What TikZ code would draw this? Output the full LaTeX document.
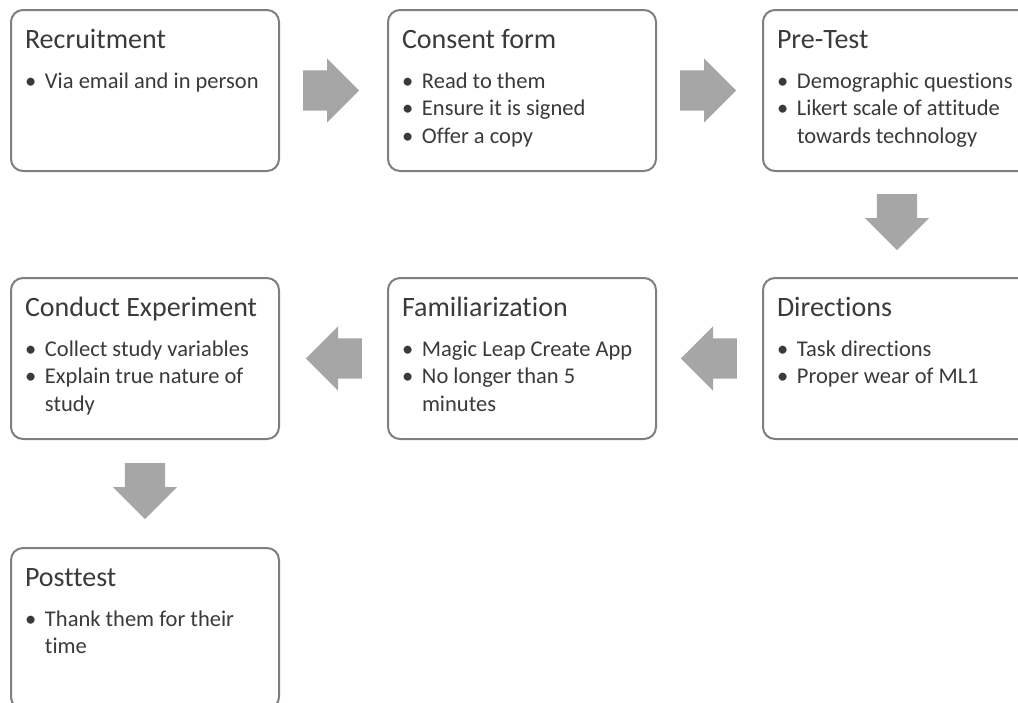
\documentclass[tikz,border=0pt]{standalone}
\usepackage{fontspec}
\setmainfont[Ligatures=NoCommon]{Carlito}
\usetikzlibrary{positioning,shapes.arrows,calc}
\definecolor{flowgrey}{HTML}{7F7F7F}
\definecolor{arrowgrey}{HTML}{A6A6A6}
\definecolor{textgrey}{HTML}{3A3A3A}
% box contents: title line, then bullet lines
\newcommand{\boxbody}[2]{%
  \begin{minipage}[t][133pt][t]{240pt}
  \noindent\fontsize{28}{34}\selectfont\rule{0pt}{24pt}#1\par\vspace{12.5pt}
  \fontsize{22.5}{27.5}\selectfont\raggedright #2
  \end{minipage}}
\newcommand{\bitem}[1]{\par\hangindent=20pt\hangafter=1\noindent
  \makebox[20pt][l]{\textbullet}#1}
\tikzset{
  stepbox/.style={draw=flowgrey,line width=2pt,rounded corners=12pt,fill=white,
                  text=textgrey,inner xsep=14pt,inner ysep=14pt},
  flowarrow/.style={single arrow,fill=arrowgrey,draw=none,anchor=tail,
                    inner xsep=0pt,inner ysep=20pt,
                    minimum height=56pt,minimum width=64pt,
                    single arrow head extend=12pt},
}
\begin{document}
\begin{tikzpicture}[x=1pt,y=1pt]
  \useasboundingbox (0,0) rectangle (1018,-702);

  % ---- row 1 ----
  \node[stepbox,anchor=north west] (recruit) at (10,-9)
    {\boxbody{Recruitment}{\bitem{Via email and in person}}};
  \node[stepbox,right=107pt of recruit] (consent)
    {\boxbody{Consent form}{\bitem{Read to them}\bitem{Ensure it is signed}%
      \bitem{Offer a copy}}};
  \node[stepbox,right=105pt of consent] (pretest)
    {\boxbody{Pre-Test}{\bitem{Demographic questions}%
      \bitem{Likert scale of attitude\newline towards technology}}};

  % ---- row 2 (right to left) ----
  \node[stepbox,below=105pt of pretest] (directions)
    {\boxbody{Directions}{\bitem{Task directions}\bitem{Proper wear of ML1}}};
  \node[stepbox,left=105pt of directions] (familiar)
    {\boxbody{Familiarization}{\bitem{Magic Leap Create App}%
      \bitem{No longer than 5\newline minutes}}};
  \node[stepbox,left=107pt of familiar] (conduct)
    {\boxbody{Conduct Experiment}{\bitem{Collect study variables}%
      \bitem{Explain true nature of\newline study}}};

  % ---- row 3 ----
  \node[stepbox,below=107pt of conduct] (posttest)
    {\boxbody{Posttest}{\bitem{Thank them for their\newline time}}};

  % ---- block arrows between the steps ----
  \node[flowarrow] (a1) at ([xshift=23pt]recruit.east) {};
  \node[flowarrow] (a2) at ([xshift=23pt]consent.east) {};
  \node[flowarrow,rotate=-90] (a3) at ([yshift=-22pt]pretest.south) {};
  \node[flowarrow,rotate=180] (a4) at ([xshift=-25pt]directions.west) {};
  \node[flowarrow,rotate=180] (a5) at ([xshift=-25pt]familiar.west) {};
  \node[flowarrow,rotate=-90] (a6) at ([yshift=-23pt]conduct.south) {};
\end{tikzpicture}
\end{document}
